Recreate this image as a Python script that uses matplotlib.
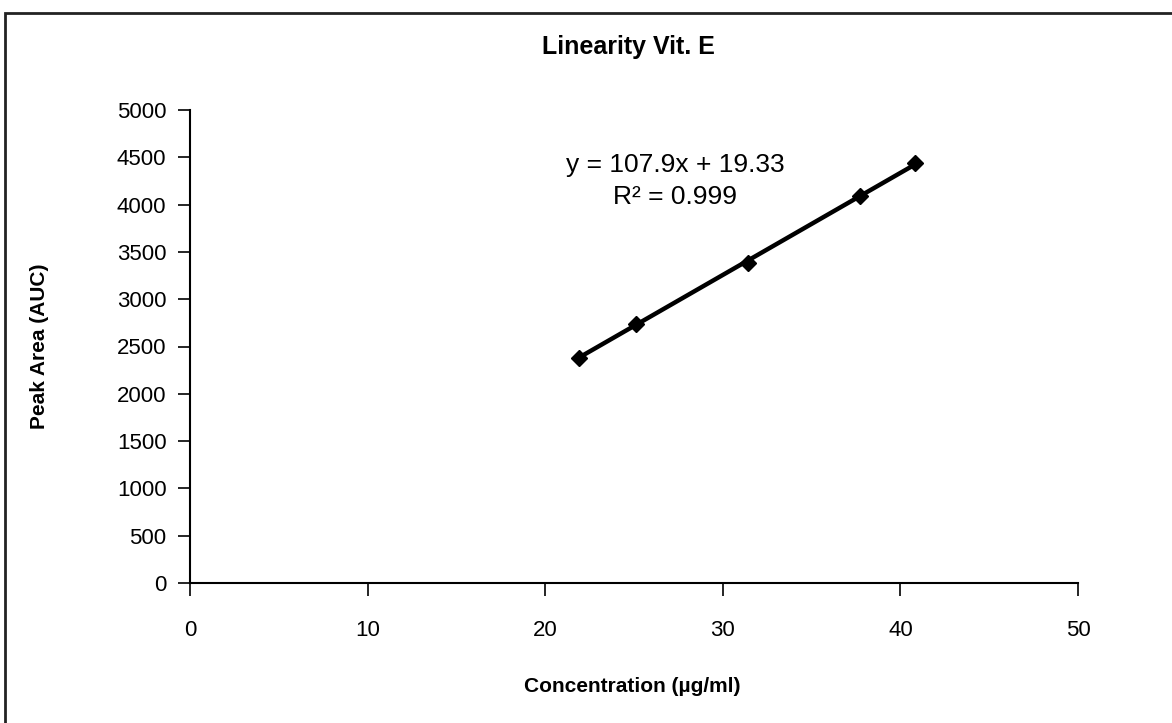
import matplotlib
matplotlib.use("Agg")
import matplotlib.pyplot as plt
import numpy as np
from matplotlib.patches import Rectangle

# Data
conc = [21.9, 25.1, 31.4, 37.7, 40.8]          # µg/ml
area = [2375, 2740, 3380, 4095, 4445]          # peak area (AUC)
slope, intercept = 107.9, 19.33
r_squared = 0.999

x_ticks = [0, 10, 20, 30, 40, 50]
y_ticks = [0, 500, 1000, 1500, 2000, 2500, 3000, 3500, 4000, 4500, 5000]

plt.rcParams["font.family"] = ["Liberation Sans", "DejaVu Sans"]

fig = plt.figure(figsize=(11.72, 7.23), dpi=100)
fig.patch.set_facecolor("white")

# chart-area border (left / top visible in the scan)
fig.add_artist(Rectangle((5 / 1172, -0.01), 1.2, 1 - 13 / 723 + 0.01,
                         transform=fig.transFigure, fill=False,
                         edgecolor="#222222", linewidth=2.0))

ax = fig.add_axes([190 / 1172, 1 - 583 / 723, (1078 - 190) / 1172, (583 - 110) / 723])

# trendline over the data range
xs = np.array([min(conc), max(conc)])
ax.plot(xs, slope * xs + intercept, color="black", linewidth=3.2, zorder=2,
        solid_capstyle="butt")
ax.plot(conc, area, linestyle="none", marker="D", markersize=8,
        color="black", zorder=3)

ax.set_xlim(0, 50)
ax.set_ylim(0, 5000)
ax.set_xticks(x_ticks)
ax.set_yticks(y_ticks)
ax.tick_params(axis="both", direction="out", length=9, width=1.2,
               labelsize=16, color="black")
ax.tick_params(axis="x", pad=17.5)
ax.tick_params(axis="y", pad=8)

for side in ("top", "right"):
    ax.spines[side].set_visible(False)
for side in ("left", "bottom"):
    ax.spines[side].set_linewidth(1.5)

fig.text(628 / 1172, 1 - 47 / 723, "Linearity Vit. E", fontsize=18,
         fontweight="bold", ha="center", va="center")
ax.set_xlabel("Concentration (µg/ml)", fontsize=15, fontweight="bold", va="center")
ax.xaxis.set_label_coords(0.5 - 2 / 888, (583 - 687) / 473)
ax.set_ylabel("Peak Area (AUC)", fontsize=15, fontweight="bold", va="center")
ax.yaxis.set_label_coords((40 - 190) / 888, 0.5)

ax.text(27.3, 4420, f"y = {slope}x + {intercept}", fontsize=19, ha="center", va="center")
ax.text(27.3, 4080, f"R² = {r_squared}", fontsize=19, ha="center", va="center")

fig.savefig("out.png", dpi=100, facecolor="white")
